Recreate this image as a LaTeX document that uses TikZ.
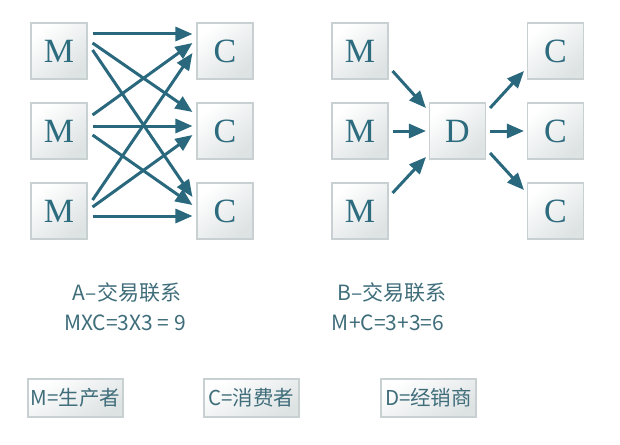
\documentclass[tikz,border=0pt]{standalone}
\usepackage{fontspec}
\setmainfont{Liberation Serif}
\newfontfamily\cjk{Noto Sans CJK SC}
\usetikzlibrary{arrows.meta}
\definecolor{teal1}{HTML}{2A687E}
\definecolor{txt1}{HTML}{2D6B7E}
\definecolor{txt2}{HTML}{3F6D7A}
\definecolor{bord}{HTML}{C8D0D2}
\definecolor{shad}{HTML}{DDE2E3}
\tikzset{
  box/.style={draw=bord, line width=1.1pt, minimum width=56pt, minimum height=56pt,
    inner sep=0pt, top color=white, bottom color=shad, shading angle=40,
    text=txt1, font=\fontsize{34}{34}\selectfont},
  arr/.style={draw=teal1, line width=3pt, -{Triangle[length=17pt,width=14pt]}},
  captext/.style={text=txt2, font=\cjk\fontsize{21}{23}\selectfont, inner sep=0pt},
  legend/.style={draw=bord, line width=1.1pt, minimum width=95pt, minimum height=38pt,
    inner sep=0pt, top color=white, bottom color=shad, shading angle=30,
    text=txt2, font=\cjk\fontsize{20.5}{22}\selectfont}
}
\begin{document}
\begin{tikzpicture}[x=1pt,y=-1pt]
\useasboundingbox (0,0) rectangle (620,444);
% left panel
\node[box] (m1) at (59,51) {M};
\node[box] (m2) at (59,131) {M};
\node[box] (m3) at (59,211) {M};
\node[box] (c1) at (225,51) {C};
\node[box] (c2) at (225,131) {C};
\node[box] (c3) at (225,211) {C};
\draw[arr] ([xshift=5pt,yshift=17pt]m1.east) -- ([xshift=-4pt,yshift=17pt]c1.west);
\draw[arr] ([xshift=5pt,yshift=8pt]m1.east) -- ([xshift=-4pt,yshift=19pt]c2.west);
\draw[arr] ([xshift=5pt,yshift=1pt]m1.east) -- ([xshift=-4pt,yshift=14pt]c3.west);
\draw[arr] ([xshift=5pt,yshift=16pt]m2.east) -- ([xshift=-4pt,yshift=8pt]c1.west);
\draw[arr] ([xshift=5pt,yshift=5pt]m2.east) -- ([xshift=-4pt,yshift=5pt]c2.west);
\draw[arr] ([xshift=5pt,yshift=-4pt]m2.east) -- ([xshift=-4pt,yshift=6pt]c3.west);
\draw[arr] ([xshift=5pt,yshift=11pt]m3.east) -- ([xshift=-4pt,yshift=-2pt]c1.west);
\draw[arr] ([xshift=5pt,yshift=4pt]m3.east) -- ([xshift=-4pt,yshift=-4pt]c2.west);
\draw[arr] ([xshift=5pt,yshift=-5pt]m3.east) -- ([xshift=-4pt,yshift=-5pt]c3.west);
% right panel
\node[box] (n1) at (360,51) {M};
\node[box] (n2) at (360,131) {M};
\node[box] (n3) at (360,211) {M};
\node[box] (d) at (457.5,131) {D};
\node[box] (e1) at (555.5,51) {C};
\node[box] (e2) at (555.5,131) {C};
\node[box] (e3) at (555.5,211) {C};
\draw[arr] ([xshift=4pt,yshift=-20pt]n1.east) -- ([xshift=-3pt,yshift=23pt]d.west);
\draw[arr] ([xshift=4pt]n2.east) -- ([xshift=-3pt]d.west);
\draw[arr] ([xshift=4pt,yshift=18pt]n3.east) -- ([xshift=-3pt,yshift=-26pt]d.west);
\draw[arr] ([xshift=4pt,yshift=23pt]d.east) -- ([xshift=-3pt,yshift=-20pt]e1.west);
\draw[arr] ([xshift=4pt]d.east) -- ([xshift=-3pt]e2.west);
\draw[arr] ([xshift=4pt,yshift=-22pt]d.east) -- ([xshift=-3pt,yshift=21pt]e3.west);
% captions
\node[captext] (ta) at (127,293) {A–交易联系};
\node[captext] (fa) at (125,323) {MXC=3X3 = 9};
\node[captext] (tb) at (392,293) {B–交易联系};
\node[captext] (fb) at (388,323) {M+C=3+3=6};
% legend
\node[legend] (lm) at (75.5,398) {M=生产者};
\node[legend] (lc) at (251.5,398) {C=消费者};
\node[legend] (ld) at (428.5,398) {D=经销商};
\end{tikzpicture}
\end{document}
